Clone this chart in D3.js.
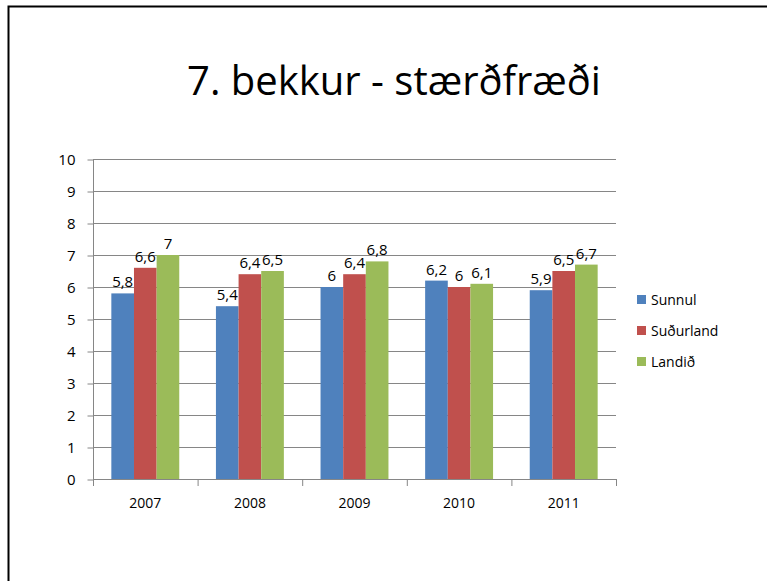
<!DOCTYPE html>
<html><head><meta charset="utf-8">
<script src="https://cdn.jsdelivr.net/npm/d3@7"></script>
<style>body{margin:0;background:#fff}svg{display:block}text{font-family:"Open Sans","Noto Sans",sans-serif}</style>
</head><body><svg id="c" width="767" height="581"></svg>
<script>
const title = "7. bekkur - stærðfræði";
const categories = ["2007","2008","2009","2010","2011"];
const seriesNames = ["Sunnul","Suðurland","Landið"];
const sunnul = [5.8,5.4,6,6.2,5.9];
const sudurland = [6.6,6.4,6.4,6,6.5];
const landid = [7,6.5,6.8,6.1,6.7];
const yTicks = [0,1,2,3,4,5,6,7,8,9,10];
const colors = ["#4F81BD","#C0504D","#9BBB59"];
const seriesValues = [sunnul, sudurland, landid];
const fmt = v => String(v).replace(".", ",");

const svg = d3.select("#c");
// frame
svg.append("path").attr("d","M8.5,581 L8.5,6.5 L767,6.5").attr("fill","none").attr("stroke","#000").attr("stroke-width",2);

svg.append("text").attr("x",394).attr("y",95).attr("text-anchor","middle")
  .attr("font-size",40).attr("fill","#000").text(title);

const x = d3.scaleBand().domain(categories).range([93,616]);
const xs = d3.scaleBand().domain(seriesNames).range([0, x.bandwidth()]).paddingInner(0).paddingOuter(0.81);
const y = d3.scaleLinear().domain([0,10]).range([479,159]);

// gridlines
svg.append("g").selectAll("line").data(yTicks.filter(d=>d>0)).join("line")
  .attr("x1",93).attr("x2",616).attr("y1",d=>y(d)+0.5).attr("y2",d=>y(d)+0.5)
  .attr("stroke","#868686").attr("stroke-width",1);

// bars
const g = svg.append("g");
seriesValues.forEach((vals,si)=>{
  g.selectAll(null).data(vals).join("rect")
    .attr("x",(d,i)=>x(categories[i])+xs(seriesNames[si]))
    .attr("width",xs.bandwidth())
    .attr("y",d=>y(d)).attr("height",d=>y(0)-y(d))
    .attr("fill",colors[si]);
  g.selectAll(null).data(vals).join("text")
    .attr("x",(d,i)=>x(categories[i])+xs(seriesNames[si])+xs.bandwidth()/2)
    .attr("y",d=>y(d)-6).attr("text-anchor","middle")
    .attr("font-size",15).attr("fill","#000").text(d=>fmt(d));
});

// y axis
const ya = svg.append("g").attr("transform","translate(93.5,0.5)")
  .call(d3.axisLeft(y).tickValues(yTicks).tickSize(6).tickPadding(12).tickFormat(d=>d));
ya.select(".domain").attr("stroke","#868686").attr("d","M0,"+(y(10))+"V"+y(0));
ya.selectAll(".tick line").attr("stroke","#868686");
ya.selectAll("text").attr("font-size",15).attr("fill","#000").attr("font-family",'"Open Sans",sans-serif');

// x axis
const xa = svg.append("g").attr("transform","translate(0,479.5)")
  .call(d3.axisBottom(x).tickSize(0).tickPadding(19));
xa.select(".domain").attr("stroke","#868686").attr("d","M93,0H616");
xa.selectAll("text").attr("font-size",14).attr("fill","#000").attr("font-family",'"Open Sans",sans-serif');
svg.append("g").selectAll("line").data(categories.concat(["end"])).join("line")
  .attr("x1",(d,i)=> i<categories.length ? x(d)+0.5 : x.range()[1]+0.5)
  .attr("x2",(d,i)=> i<categories.length ? x(d)+0.5 : x.range()[1]+0.5)
  .attr("y1",479).attr("y2",486).attr("stroke","#868686");

// legend
const lg = svg.append("g");
seriesNames.forEach((n,i)=>{
  lg.append("rect").attr("x",637).attr("y",295+i*31).attr("width",9).attr("height",9).attr("fill",colors[i]);
  lg.append("text").attr("x",651).attr("y",305+i*31).attr("font-size",14).attr("fill","#000").text(n);
});
</script></body></html>
